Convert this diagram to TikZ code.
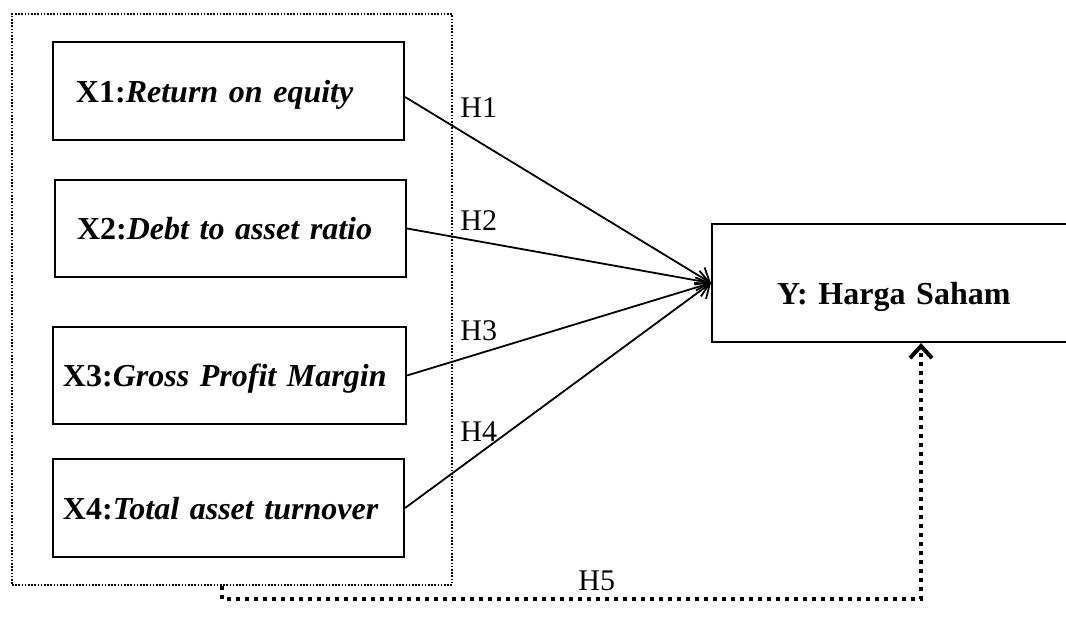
\documentclass[tikz,border=0pt]{standalone}
\usepackage{fontspec}
\setmainfont{Liberation Serif}
\usetikzlibrary{arrows.meta,calc}

\begin{document}
\begin{tikzpicture}[x=0.5pt,y=-0.5pt,
  varbox/.style={draw,line width=1.1pt,inner xsep=0pt,inner ysep=0pt,
    align=left,font=\fontsize{16}{18}\selectfont\bfseries,
    text height=11pt,text depth=0pt},
  grpbox/.style={draw,line width=0.8pt,dash pattern=on 0.8pt off 0.8pt,
    inner sep=0pt},
  hlabel/.style={anchor=base west,inner sep=0pt,font=\fontsize{15}{17}\selectfont},
  effect/.style={line width=0.9pt,
    -{Straight Barb[length=6pt,width=10pt,line width=0.9pt]}},
  joint/.style={line width=2pt,dash pattern=on 2pt off 2.5pt,
    -{Straight Barb[length=6pt,width=11pt,line width=2pt]}}]
\useasboundingbox (0,0) rectangle (1066,621);
\clip (0,0) rectangle (1066,621);

% dotted group holding the four predictors
\node[grpbox,minimum width=220pt,minimum height=285.5pt] (grp) at (232,299.5) {};

% predictor boxes
\node[varbox,minimum width=175.5pt,minimum height=49pt,text width=175.5pt]
  (x1) at (228.5,91) {\hspace*{11.5pt}\mbox{X1:\textit{Return on equity}}};
\node[varbox,minimum width=175.5pt,minimum height=48.5pt,text width=175.5pt]
  (x2) at (230.5,228.5) {\hspace*{11pt}\mbox{X2:\textit{Debt to asset ratio}}};
\node[varbox,minimum width=176.5pt,minimum height=48.5pt,text width=176.5pt]
  (x3) at (229.5,375.5) {\hspace*{5pt}\mbox{X3:\textit{Gross Profit Margin}}};
\node[varbox,minimum width=175.5pt,minimum height=49pt,text width=175.5pt]
  (x4) at (228.5,508) {\hspace*{5pt}\mbox{X4:\textit{Total asset turnover}}};

% dependent variable
\node[varbox,minimum width=209pt,minimum height=59pt,text width=209pt,
  text height=21pt] (y) at (921,283) {\hspace*{32.5pt}\mbox{Y: Harga Saham}};

% partial effects
\draw[effect] ($(x1.east)+(0,6)$) -- (y.west);
\draw[effect] (x2.east) -- (y.west);
\draw[effect] (x3.east) -- (y.west);
\draw[effect] (x4.east) -- (y.west);

\node[hlabel] (h1) at (460,117) {H1};
\node[hlabel] (h2) at (460,230) {H2};
\node[hlabel] (h3) at (460,340) {H3};
\node[hlabel] (h4) at (460,441) {H4};

% simultaneous effect
\draw[joint] ($(grp.south)+(-10,0)$) |- ($(y.south)+(0,256)$) -- (y.south);
\node[hlabel] (h5) at (578,590) {H5};
\end{tikzpicture}
\end{document}
